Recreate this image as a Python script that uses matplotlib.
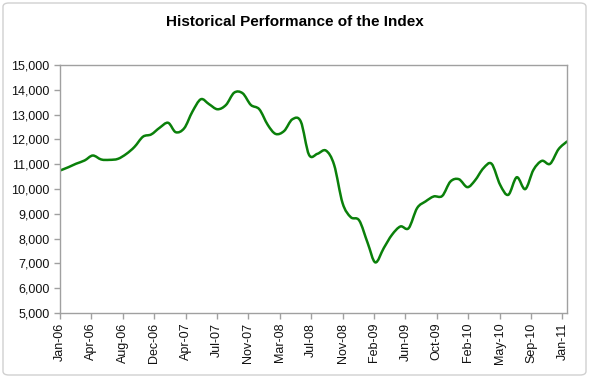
import matplotlib
matplotlib.use('Agg')
import matplotlib.pyplot as plt
import matplotlib.dates as mdates
from matplotlib.path import Path
from matplotlib.patches import PathPatch, FancyBboxPatch
import numpy as np
import pandas as pd

# monthly index levels, Jan-06 .. Feb-11
dates = pd.date_range('2006-01-01', '2011-02-01', freq='MS')
values = [10745, 10880, 11020, 11150, 11350, 11190, 11175, 11215, 11415, 11700, 12110, 12200,
          12470, 12670, 12290, 12450, 13120, 13620, 13420, 13215, 13390, 13885, 13860, 13390,
          13215, 12585, 12220, 12340, 12810, 12720, 11380, 11420, 11550, 10975, 9430, 8865,
          8730, 7820, 7040, 7620, 8155, 8490, 8420, 9230, 9500, 9700, 9720, 10300,
          10395, 10075, 10345, 10840, 11015, 10170, 9765, 10475, 9995, 10770, 11135, 11015,
          11605, 11915]

title = 'Historical Performance of the Index'

plt.rcParams['font.family'] = ['Liberation Sans', 'DejaVu Sans']

fig = plt.figure(figsize=(5.89, 3.78), dpi=100)
ax = fig.add_axes([60/589, 1 - 313/378, 507/589, 248/378])

# smooth line like Excel (Catmull-Rom segments as cubic beziers)
x = mdates.date2num(dates)
y = np.array(values, dtype=float)
verts = [(x[0], y[0])]
codes = [Path.MOVETO]
for i in range(len(x) - 1):
    x0, y0 = (x[i-1], y[i-1]) if i > 0 else (x[i], y[i])
    x3, y3 = (x[i+2], y[i+2]) if i + 2 < len(x) else (x[i+1], y[i+1])
    c1 = (x[i] + (x[i+1] - x0) / 6, y[i] + (y[i+1] - y0) / 6)
    c2 = (x[i+1] - (x3 - x[i]) / 6, y[i+1] - (y3 - y[i]) / 6)
    verts += [c1, c2, (x[i+1], y[i+1])]
    codes += [Path.CURVE4] * 3
ax.add_patch(PathPatch(Path(verts, codes), facecolor='none', edgecolor='#0a800a',
                       lw=1.8, capstyle='round', joinstyle='round'))

start = mdates.date2num(pd.Timestamp('2006-01-01'))
ax.set_xlim(start, x[-1])
ax.set_ylim(5000, 15000)
ax.set_yticks(np.arange(5000, 15001, 1000))
ax.yaxis.set_major_formatter(matplotlib.ticker.FuncFormatter(lambda v, p: f'{int(v):,}'))
ax.set_xticks(start + np.arange(17) * 115)
ax.xaxis.set_major_formatter(mdates.DateFormatter('%b-%y'))

for s in ax.spines.values():
    s.set_color('#a0a0a0')
    s.set_linewidth(1.0)
ax.tick_params(axis='both', colors='#a0a0a0', labelcolor='#111111', labelsize=9, length=4, width=1.0)
ax.tick_params(axis='x', rotation=90, pad=3)

fig.text(0.5, 1 - 22/378, title, ha='center', va='center', fontsize=11, fontweight='bold')

fig.patches.append(FancyBboxPatch((3/589, 3/378), 583/589, 372/378, boxstyle='round,pad=0,rounding_size=0.01',
                                  transform=fig.transFigure, facecolor='none', edgecolor='#d0d0d0', lw=1))

fig.savefig('out.png', dpi=100)
